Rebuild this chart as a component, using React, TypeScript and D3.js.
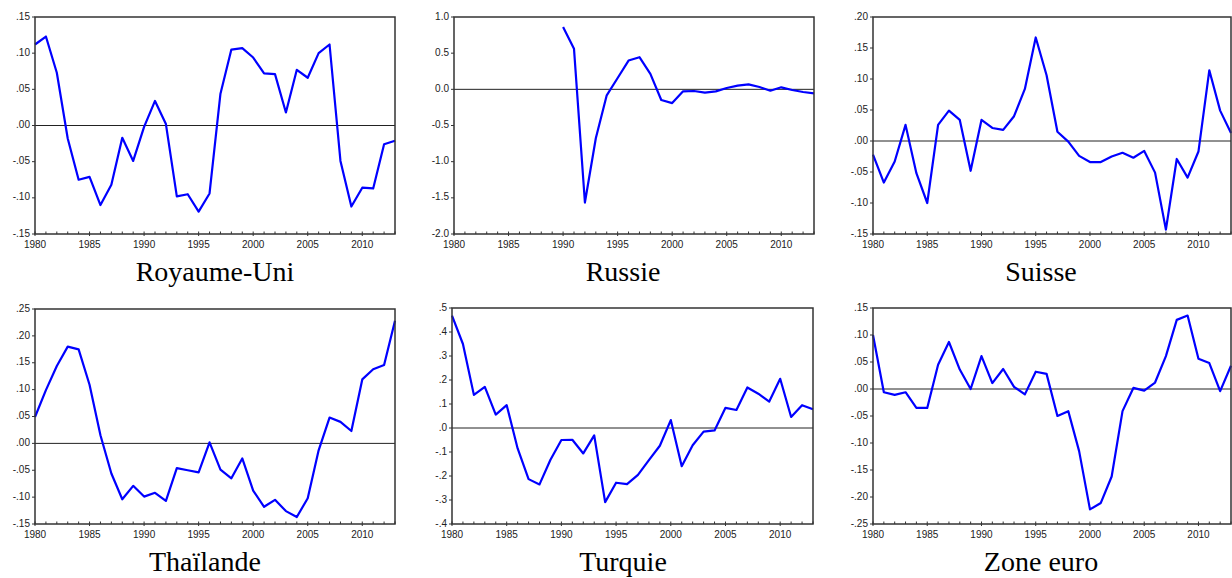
import React, { useEffect, useRef } from "react";
import * as d3 from "d3";

// years on the x axis
const years = d3.range(1980, 2014);

// series values, one per year (null = no data)
const royaumeUni = [
  0.112, 0.123, 0.073, -0.018, -0.075, -0.071, -0.110, -0.082, -0.017, -0.049,
  -0.002, 0.034, 0.002, -0.098, -0.095, -0.119, -0.094, 0.044, 0.105, 0.107,
  0.094, 0.072, 0.071, 0.018, 0.077, 0.066, 0.100, 0.112, -0.049, -0.112,
  -0.086, -0.087, -0.026, -0.021,
];
const russie = [
  null, null, null, null, null, null, null, null, null, null,
  0.861, 0.56, -1.565, -0.676, -0.083, 0.157, 0.398, 0.444, 0.213, -0.148,
  -0.19, -0.028, -0.023, -0.046, -0.028, 0.019, 0.051, 0.069, 0.032, -0.019,
  0.028, -0.009, -0.037, -0.056,
];
const suisse = [
  -0.022, -0.067, -0.033, 0.026, -0.052, -0.100, 0.026, 0.049, 0.034, -0.048,
  0.034, 0.021, 0.018, 0.040, 0.084, 0.167, 0.106, 0.015, -0.001, -0.024,
  -0.034, -0.034, -0.025, -0.019, -0.027, -0.016, -0.051, -0.143, -0.029, -0.059,
  -0.017, 0.114, 0.049, 0.013,
];
const thailande = [
  0.049, 0.099, 0.144, 0.180, 0.175, 0.109, 0.015, -0.056, -0.104, -0.079,
  -0.099, -0.092, -0.107, -0.046, -0.050, -0.054, 0.002, -0.049, -0.065, -0.028,
  -0.088, -0.118, -0.105, -0.126, -0.137, -0.102, -0.013, 0.048, 0.040, 0.023,
  0.119, 0.138, 0.146, 0.228,
];
const turquie = [
  0.468, 0.350, 0.138, 0.171, 0.056, 0.095, -0.085, -0.213, -0.235, -0.132,
  -0.050, -0.049, -0.106, -0.031, -0.309, -0.228, -0.234, -0.195, -0.134, -0.074,
  0.033, -0.159, -0.072, -0.015, -0.010, 0.084, 0.075, 0.169, 0.143, 0.110,
  0.205, 0.046, 0.095, 0.078,
];
const zoneEuro = [
  0.100, -0.006, -0.011, -0.006, -0.035, -0.035, 0.045, 0.087, 0.036, 0.000,
  0.061, 0.011, 0.037, 0.004, -0.010, 0.032, 0.028, -0.050, -0.041, -0.115,
  -0.223, -0.211, -0.162, -0.041, 0.002, -0.003, 0.012, 0.061, 0.128, 0.136,
  0.056, 0.048, -0.004, 0.043,
];

const titles = ["Royaume-Uni", "Russie", "Suisse", "Thaïlande", "Turquie", "Zone euro"];
const allSeries = [royaumeUni, russie, suisse, thailande, turquie, zoneEuro];

// y tick values and their labels
const yTicks = [
  [-0.15, -0.1, -0.05, 0, 0.05, 0.1, 0.15],
  [-2, -1.5, -1, -0.5, 0, 0.5, 1],
  [-0.15, -0.1, -0.05, 0, 0.05, 0.1, 0.15, 0.2],
  [-0.15, -0.1, -0.05, 0, 0.05, 0.1, 0.15, 0.2, 0.25],
  [-0.4, -0.3, -0.2, -0.1, 0, 0.1, 0.2, 0.3, 0.4, 0.5],
  [-0.25, -0.2, -0.15, -0.1, -0.05, 0, 0.05, 0.1, 0.15],
];
const yLabels = [
  ["-.15", "-.10", "-.05", ".00", ".05", ".10", ".15"],
  ["-2.0", "-1.5", "-1.0", "-0.5", "0.0", "0.5", "1.0"],
  ["-.15", "-.10", "-.05", ".00", ".05", ".10", ".15", ".20"],
  ["-.15", "-.10", "-.05", ".00", ".05", ".10", ".15", ".20", ".25"],
  ["-.4", "-.3", "-.2", "-.1", ".0", ".1", ".2", ".3", ".4", ".5"],
  ["-.25", "-.20", "-.15", "-.10", "-.05", ".00", ".05", ".10", ".15"],
];
const xMajor = [1980, 1985, 1990, 1995, 2000, 2005, 2010];

// plot boxes [left, top, right, bottom] and title centre
const boxes = [
  [35, 17, 395, 234, 215],
  [454, 17, 814, 234, 623],
  [873, 17, 1231, 234, 1041],
  [35, 309, 395, 524, 205],
  [452, 308, 813, 524, 623],
  [873, 308, 1231, 524, 1041],
];

function App() {
  const ref = useRef(null);

  useEffect(() => {
    const svg = d3.select(ref.current);
    svg.selectAll("*").remove();

    boxes.forEach((b, i) => {
      const [l, t, r, btm, tc] = b;
      const ticks = yTicks[i];
      const x = d3.scaleLinear().domain([1980, 2013]).range([l, r]);
      const y = d3.scaleLinear().domain([ticks[0], ticks[ticks.length - 1]]).range([btm, t]);
      const g = svg.append("g");

      // zero line
      g.append("line")
        .attr("x1", l).attr("x2", r)
        .attr("y1", y(0)).attr("y2", y(0))
        .attr("stroke", "#222").attr("stroke-width", 1);

      // series
      const line = d3.line()
        .defined((d) => d[1] != null)
        .x((d) => x(d[0]))
        .y((d) => y(d[1]));
      g.append("path")
        .datum(years.map((yr, k) => [yr, allSeries[i][k]]))
        .attr("fill", "none")
        .attr("stroke", "#0000ff")
        .attr("stroke-width", 2.2)
        .attr("stroke-linejoin", "round")
        .attr("d", line);

      // frame
      g.append("rect")
        .attr("x", l).attr("y", t)
        .attr("width", r - l).attr("height", btm - t)
        .attr("fill", "none").attr("stroke", "#333").attr("stroke-width", 1.5);

      // y ticks
      ticks.forEach((v, k) => {
        g.append("line")
          .attr("x1", l - 3).attr("x2", l)
          .attr("y1", y(v)).attr("y2", y(v))
          .attr("stroke", "#333");
        g.append("text")
          .attr("x", l - 5).attr("y", y(v))
          .attr("text-anchor", "end")
          .attr("dominant-baseline", "middle")
          .attr("font-family", "'Liberation Sans', Arial, sans-serif")
          .attr("font-size", 10)
          .attr("fill", "#222")
          .text(yLabels[i][k]);
      });

      // x ticks
      years.forEach((yr) => {
        const major = xMajor.includes(yr);
        g.append("line")
          .attr("x1", x(yr)).attr("x2", x(yr))
          .attr("y1", btm - 2.5).attr("y2", major ? btm + 2 : btm)
          .attr("stroke", "#333");
      });
      xMajor.forEach((yr) => {
        g.append("text")
          .attr("x", x(yr)).attr("y", btm + 13.5)
          .attr("text-anchor", "middle")
          .attr("font-family", "'Liberation Sans', Arial, sans-serif")
          .attr("font-size", 10)
          .attr("fill", "#222")
          .text(String(yr));
      });

      // title
      g.append("text")
        .attr("x", tc).attr("y", btm + 47)
        .attr("text-anchor", "middle")
        .attr("font-family", "'Liberation Serif', serif")
        .attr("font-size", 28)
        .attr("fill", "#000")
        .text(titles[i]);
    });
  }, []);

  return (
    <svg
      ref={ref}
      width={1232}
      height={578}
      style={{ position: "absolute", left: 0, top: 0, background: "#fff" }}
    />
  );
}

export default App;
